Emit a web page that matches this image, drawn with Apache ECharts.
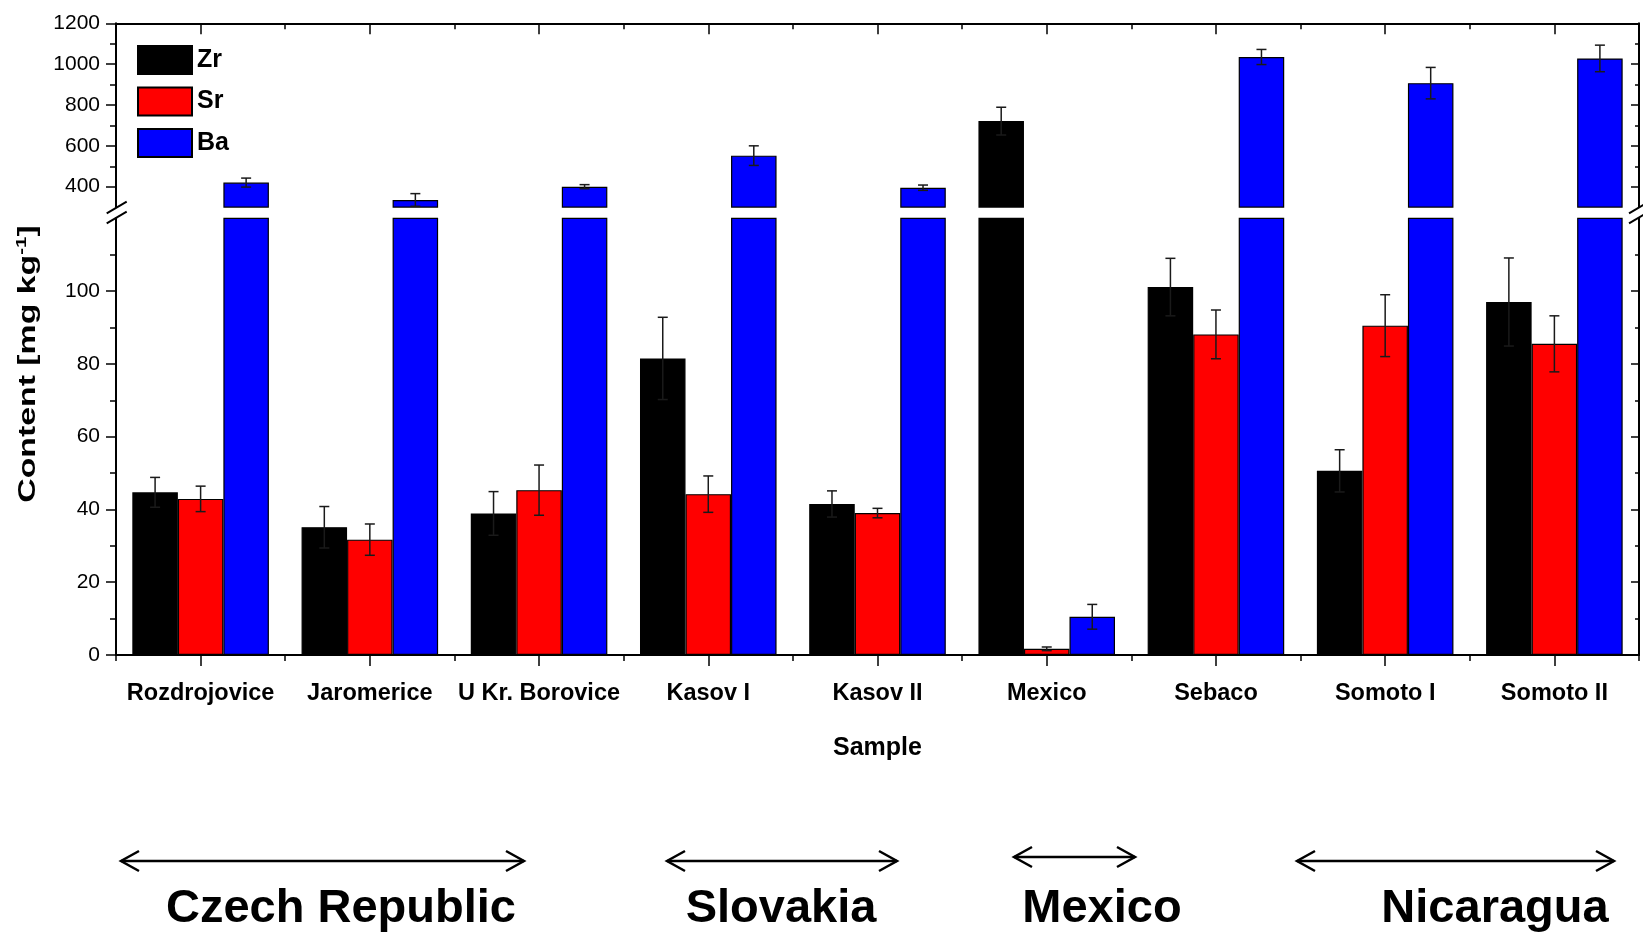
<!DOCTYPE html>
<html>
<head>
<meta charset="utf-8">
<script src="https://cdn.jsdelivr.net/npm/echarts@6/dist/echarts.min.js"></script>
<style>
  html, body { margin: 0; padding: 0; background: #fff; }
  #chart { width: 1643px; height: 933px; }
</style>
</head>
<body>
<div id="chart"></div>
<script>
// Sample sites and element contents (mg/kg) with standard deviations
const categories = ['Rozdrojovice', 'Jaromerice', 'U Kr. Borovice', 'Kasov I', 'Kasov II', 'Mexico', 'Sebaco', 'Somoto I', 'Somoto II'];
const zr    = [44.7, 35.1, 38.9, 81.5, 41.5, 721, 101.1, 50.6, 97.0];
const zrErr = [4.1, 5.7, 6.0, 11.3, 3.6, 68, 7.9, 5.8, 12.1];
const sr    = [42.9, 31.7, 45.3, 44.2, 39.0, 1.7, 88.1, 90.5, 85.5];
const srErr = [3.5, 4.3, 6.9, 5.0, 1.3, 0.5, 6.7, 8.5, 7.7];
const ba    = [420, 335, 400, 552, 395, 10.5, 1035, 907, 1028];
const baErr = [22, 31, 10, 48, 13, 3.4, 37, 77, 65];

// Broken value axis: lower segment and upper segment
const lowerMax = 120, lowerStep = 20;
const upperMin = 300, upperMax = 1200, upperStep = 100;
const lowerMajor = [0, 20, 40, 60, 80, 100];
const lowerMinor = [10, 30, 50, 70, 90, 110];
const upperMajor = [400, 600, 800, 1000, 1200];
const upperMinor = [500, 700, 900, 1100];

// Country groups along the bottom
const groups = [
  { name: 'Czech Republic', x1: 121, x2: 524, y: 861, tx: 341 },
  { name: 'Slovakia',       x1: 667, x2: 897, y: 861, tx: 781 },
  { name: 'Mexico',         x1: 1014, x2: 1135, y: 857, tx: 1102 },
  { name: 'Nicaragua',      x1: 1297, x2: 1614, y: 861, tx: 1495 }
];

const FONT_N = "'Liberation Sans Narrow', 'Arial Narrow', 'Liberation Sans', sans-serif";
const FONT = "'Liberation Sans', Arial, sans-serif";
const GAP = 0.193;
const colors = { Zr: '#000000', Sr: '#FF0000', Ba: '#0000FF' };

const plotLeft = 116, plotRight = 1639;
const upperTop = 23.3, upperBottom = 207.1;
const lowerTop = 218.3, lowerBottom = 655;

const chart = echarts.init(document.getElementById('chart'), null, { renderer: 'canvas' });

function yAxisDef(grid, pos, min, max, step, ticks, len, inside, withLine, withLabels) {
  return {
    type: 'value', gridIndex: grid, position: pos, min: min, max: max, interval: step,
    axisLine: { show: withLine, lineStyle: { color: '#000', width: 2 } },
    axisTick: { show: true, customValues: ticks, length: len, inside: inside, lineStyle: { color: '#000', width: 1.5 } },
    axisLabel: withLabels ? {
      show: true, customValues: ticks, margin: 16, color: '#000',
      fontFamily: FONT_N, fontSize: 21,
      formatter: function (v) { return String(v); }
    } : { show: false },
    splitLine: { show: false }
  };
}

function xAxisDef(grid, pos, centerTicks, len, inside, withLine, withLabels) {
  const ax = {
    type: 'category', gridIndex: grid, position: pos, data: categories,
    axisLine: { show: withLine, lineStyle: { color: '#000', width: 2 } },
    axisTick: { show: true, alignWithLabel: centerTicks, length: len, inside: inside, lineStyle: { color: '#000', width: 1.5 } },
    axisLabel: { show: withLabels, interval: 0, margin: 27, color: '#000', fontFamily: FONT_N, fontWeight: 'bold', fontSize: 23.5 },
    splitLine: { show: false }
  };
  if (withLabels) {
    ax.name = 'Sample';
    ax.nameLocation = 'middle';
    ax.nameGap = 81;
    ax.nameTextStyle = { color: '#000', fontFamily: FONT_N, fontWeight: 'bold', fontSize: 25 };
  }
  return ax;
}

function barSeries(name, values, xi, yi) {
  return {
    type: 'bar', name: name, data: values, xAxisIndex: xi, yAxisIndex: yi,
    barGap: '0%', barCategoryGap: (GAP * 100) + '%',
    itemStyle: { color: colors[name], borderColor: '#000', borderWidth: 1.2 },
    clip: true, z: 2
  };
}

function errSeries(idx, values, errs, xi, yi, lo, hi) {
  const data = [];
  values.forEach(function (v, i) { if (v >= lo && v <= hi) data.push([i, v, errs[i]]); });
  return {
    type: 'custom', name: 'err' + idx + '_' + yi, xAxisIndex: xi, yAxisIndex: yi,
    data: data, encode: { x: 0, y: 1 }, z: 5, silent: true,
    renderItem: function (params, api) {
      const cat = api.value(0), m = api.value(1), e = api.value(2);
      const c = api.coord([cat, m]);
      const cw = api.size([1, 0])[0];
      const bw = cw * (1 - GAP) / 3;
      const x = c[0] + (idx - 1) * bw;
      const yt = api.coord([cat, m + e])[1];
      const yb = api.coord([cat, m - e])[1];
      const h = 5;
      const st = { stroke: '#1a1a1a', lineWidth: 1.5 };
      return {
        type: 'group', children: [
          { type: 'line', shape: { x1: x, y1: yt, x2: x, y2: yb }, style: st },
          { type: 'line', shape: { x1: x - h, y1: yt, x2: x + h, y2: yt }, style: st },
          { type: 'line', shape: { x1: x - h, y1: yb, x2: x + h, y2: yb }, style: st }
        ]
      };
    }
  };
}

// Bottom annotations: double-headed arrows with country names
const graphics = [];
groups.forEach(function (g) {
  const s = { stroke: '#000', lineWidth: 2.5, fill: null };
  graphics.push({ type: 'line', shape: { x1: g.x1, y1: g.y, x2: g.x2, y2: g.y }, style: s });
  graphics.push({ type: 'polyline', shape: { points: [[g.x1 + 18, g.y - 10], [g.x1, g.y], [g.x1 + 18, g.y + 10]] }, style: s });
  graphics.push({ type: 'polyline', shape: { points: [[g.x2 - 18, g.y - 10], [g.x2, g.y], [g.x2 - 18, g.y + 10]] }, style: s });
  graphics.push({
    type: 'text', x: g.tx, y: 909,
    style: { text: g.name, fill: '#000', font: "bold 47px " + FONT, align: 'center', verticalAlign: 'middle' }
  });
});

// Axis break marks on both sides
[plotLeft + 0.7, plotRight].forEach(function (ax) {
  [207.5, 217.5].forEach(function (cy) {
    graphics.push({
      type: 'line', shape: { x1: ax - 10, y1: cy + 5.8, x2: ax + 10, y2: cy - 5.8 },
      style: { stroke: '#000', lineWidth: 2 }
    });
  });
});

// Vertical axis title
graphics.push({
  type: 'text', x: 29, y: 364, rotation: Math.PI / 2, scaleX: 1.47,
  style: {
    text: '{a|Content [mg kg}{s|-1}{a|]}',
    align: 'center', verticalAlign: 'middle',
    rich: {
      a: { fontFamily: FONT, fontWeight: 'bold', fontSize: 23, fill: '#000', lineHeight: 28 },
      s: { fontFamily: FONT, fontWeight: 'bold', fontSize: 14, fill: '#000', verticalAlign: 'top', lineHeight: 28, padding: [0, 0, 12, 0] }
    }
  }
});

const option = {
  backgroundColor: '#fff',
  animation: false,
  grid: [
    { left: plotLeft, top: upperTop, width: plotRight - plotLeft, height: upperBottom - upperTop, containLabel: false, outerBoundsMode: 'none' },
    { left: plotLeft, top: lowerTop, width: plotRight - plotLeft, height: lowerBottom - lowerTop, containLabel: false, outerBoundsMode: 'none' }
  ],
  legend: {
    data: ['Zr', 'Sr', 'Ba'], orient: 'vertical', left: 137, top: 45, padding: 0,
    itemWidth: 54, itemHeight: 28, itemGap: 11.5, icon: 'rect',
    textStyle: { color: '#000', fontFamily: FONT_N, fontWeight: 'bold', fontSize: 25 }
  },
  xAxis: [
    xAxisDef(1, 'bottom', true, 11, false, true, true),
    xAxisDef(1, 'bottom', false, 6, false, false, false),
    xAxisDef(0, 'top', true, 11, true, true, false),
    xAxisDef(0, 'top', false, 6, true, false, false)
  ],
  yAxis: [
    yAxisDef(0, 'left', upperMin, upperMax, upperStep, upperMajor, 10, false, true, true),
    yAxisDef(0, 'left', upperMin, upperMax, upperStep, upperMinor, 6, false, false, false),
    yAxisDef(0, 'right', upperMin, upperMax, upperStep, upperMajor, 8, true, true, false),
    yAxisDef(0, 'right', upperMin, upperMax, upperStep, upperMinor, 4, true, false, false),
    yAxisDef(1, 'left', 0, lowerMax, lowerStep, lowerMajor, 10, false, true, true),
    yAxisDef(1, 'left', 0, lowerMax, lowerStep, lowerMinor, 6, false, false, false),
    yAxisDef(1, 'right', 0, lowerMax, lowerStep, lowerMajor, 8, true, true, false),
    yAxisDef(1, 'right', 0, lowerMax, lowerStep, lowerMinor, 4, true, false, false)
  ],
  series: [
    barSeries('Zr', zr, 0, 4),
    barSeries('Sr', sr, 0, 4),
    barSeries('Ba', ba, 0, 4),
    barSeries('Zr', zr, 2, 0),
    barSeries('Sr', sr, 2, 0),
    barSeries('Ba', ba, 2, 0),
    errSeries(0, zr, zrErr, 0, 4, 0, lowerMax),
    errSeries(1, sr, srErr, 0, 4, 0, lowerMax),
    errSeries(2, ba, baErr, 0, 4, 0, lowerMax),
    errSeries(0, zr, zrErr, 2, 0, upperMin, upperMax),
    errSeries(1, sr, srErr, 2, 0, upperMin, upperMax),
    errSeries(2, ba, baErr, 2, 0, upperMin, upperMax)
  ],
  graphic: graphics
};

chart.setOption(option);
</script>
</body>
</html>
